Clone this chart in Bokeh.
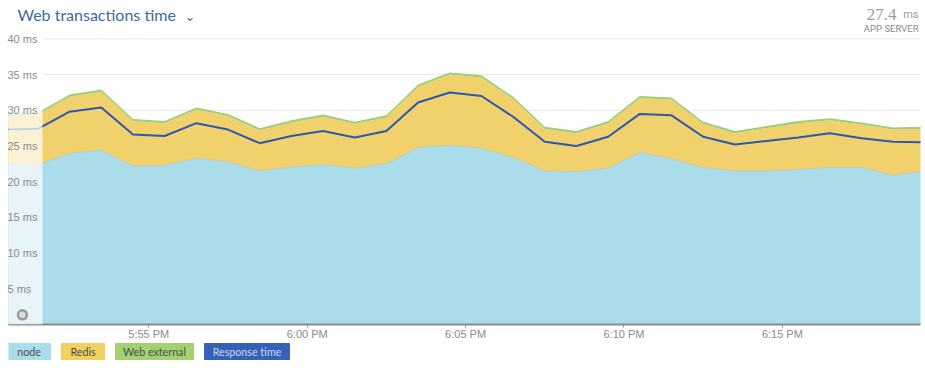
from bokeh.plotting import figure
from bokeh.models import ColumnDataSource, FixedTicker, BoxAnnotation, Range1d
from bokeh.layouts import column
from bokeh.embed import file_html
from bokeh.resources import INLINE
from bokeh.core.properties import value

# ---------------- data (minutes after 5:00 PM) ----------------
minutes = [50.5, 51.5, 52.5, 53.5, 54.5, 55.5, 56.5, 57.5, 58.5, 59.5,
           60.5, 61.5, 62.5, 63.5, 64.5, 65.5, 66.5, 67.5, 68.5, 69.5,
           70.5, 71.5, 72.5, 73.5, 74.5, 75.5, 76.5, 77.5, 78.5, 79.5]
node = [22.5, 22.4, 24.0, 24.4, 22.2, 22.3, 23.3, 22.8, 21.5, 22.1,
        22.4, 21.9, 22.5, 24.8, 25.1, 24.7, 23.4, 21.5, 21.4, 21.9,
        24.1, 23.2, 22.0, 21.5, 21.5, 21.7, 22.0, 22.0, 20.9, 21.5]
redis = [6.7, 7.0, 7.9, 8.2, 6.3, 5.9, 6.8, 6.4, 5.7, 6.2,
         6.7, 6.2, 6.5, 8.5, 9.9, 9.9, 8.2, 5.9, 5.4, 6.3,
         7.6, 8.3, 6.1, 5.3, 6.0, 6.5, 6.6, 6.0, 6.4, 5.9]
web_external = [0.3, 0.3, 0.3, 0.3, 0.3, 0.3, 0.3, 0.3, 0.3, 0.3,
                0.3, 0.3, 0.3, 0.3, 0.3, 0.3, 0.3, 0.3, 0.3, 0.3,
                0.3, 0.3, 0.3, 0.3, 0.3, 0.3, 0.3, 0.3, 0.3, 0.3]
response_time = [27.3, 27.4, 29.8, 30.4, 26.6, 26.4, 28.2, 27.3, 25.4, 26.4,
                 27.1, 26.2, 27.1, 31.1, 32.5, 32.0, 29.1, 25.6, 25.0, 26.3,
                 29.5, 29.3, 26.3, 25.2, 25.7, 26.2, 26.8, 26.1, 25.6, 25.5]

x_ticks = [55, 60, 65, 70, 75]
x_tick_labels = ["5:55 PM", "6:00 PM", "6:05 PM", "6:10 PM", "6:15 PM"]
y_ticks = [5, 10, 15, 20, 25, 30, 35, 40]
y_tick_labels = ["5 ms", "10 ms", "15 ms", "20 ms", "25 ms", "30 ms", "35 ms", "40 ms"]

legend_labels = ["node", "Redis", "Web external", "Response time"]
title_text = "Web transactions time"
summary_value = "27.4"
summary_unit = "ms"
summary_label = "APP SERVER"

# ---------------- style ----------------
C_NODE = "#aadce9"
C_REDIS = "#f0d16b"
C_WEB = "#9fcd72"
C_RESP = "#2a58b2"
GRAY = "#8a8a8a"

X_START, X_END = 50.571, 79.36
BAND_END = 51.645
Y_MAX = 45.38

src = ColumnDataSource(dict(t=minutes, node=node, redis=redis, web=web_external,
                            resp=response_time))

p = figure(frame_width=912, frame_height=324, output_backend="svg",
           toolbar_location=None, x_range=Range1d(X_START, X_END),
           y_range=Range1d(0, Y_MAX), min_border_left=8, min_border_right=5,
           min_border_top=0, min_border_bottom=0)
p.outline_line_color = None
p.xgrid.visible = False
p.ygrid.visible = False
p.yaxis.visible = False
p.background_fill_color = "white"

# grid lines (start after the faded band)
p.segment(x0=[BAND_END] * len(y_ticks), x1=[X_END] * len(y_ticks),
          y0=y_ticks, y1=y_ticks, line_color="#e8e8e8", line_width=1)

# stacked areas
p.varea_stack(["node", "redis", "web"], x="t", color=[C_NODE, C_REDIS, C_WEB],
              source=src)
# subtle edge between node and redis
p.line("t", "node", source=src, line_color="#b4c6bd", line_width=1, line_alpha=0.8)

# response time line
p.line("t", "resp", source=src, line_color=C_RESP, line_width=2)

# faded band at left
p.add_layout(BoxAnnotation(left=X_START, right=BAND_END, fill_color="white",
                           fill_alpha=0.72, line_color=None))

# y labels inside plot
ylab = p.text(x=[X_START] * len(y_ticks), y=y_ticks, text=y_tick_labels,
              x_offset=-1, text_baseline="middle", text_align="left",
              text_font=value("Liberation Sans"), text_font_size="11px",
              text_color=GRAY)
ylab.level = "overlay"

# small ring icon in the band
icon = p.scatter(x=[X_START + 0.44], y=[1.35], marker="circle", size=9,
                 fill_color="#dcdcdc", line_color="#9a9a9a", line_width=2.5)
icon.level = "overlay"

# title and summary
texts = []
texts.append(p.text(x=[X_START], y=[Y_MAX], text=[title_text], x_offset=9, y_offset=14,
                    text_baseline="alphabetic", text_align="left", text_font=value("Lato"),
                    text_font_size="16px", text_color="#3a6b9b"))
texts.append(p.text(x=[X_START], y=[Y_MAX], text=["\u2304"], x_offset=176, y_offset=16,
                    text_baseline="alphabetic", text_align="left",
                    text_font=value("DejaVu Sans"), text_font_size="13px",
                    text_color="#3a6b9b"))
texts.append(p.text(x=[X_END], y=[Y_MAX], text=[summary_value], x_offset=-24, y_offset=14,
                    text_baseline="alphabetic", text_align="right",
                    text_font=value("Liberation Sans Narrow"), text_font_size="17px",
                    text_color="#9a9a9a"))
texts.append(p.text(x=[X_END], y=[Y_MAX], text=[summary_unit], x_offset=-2, y_offset=14,
                    text_baseline="alphabetic", text_align="right",
                    text_font=value("Roboto"), text_font_size="11px", text_color="#9a9a9a"))
texts.append(p.text(x=[X_END], y=[Y_MAX], text=[summary_label], x_offset=-2, y_offset=28,
                    text_baseline="alphabetic", text_align="right",
                    text_font=value("Roboto"), text_font_size="9.5px", text_color="#8a8a8a"))
for r in texts:
    r.level = "overlay"

# x axis
ax = p.xaxis[0]
ax.ticker = FixedTicker(ticks=x_ticks)
ax.major_label_overrides = {t: l for t, l in zip(x_ticks, x_tick_labels)}
ax.axis_line_color = "#8c8c8c"
ax.axis_line_width = 2
ax.major_tick_line_color = "#8c8c8c"
ax.major_tick_in = 0
ax.major_tick_out = 3
ax.minor_tick_line_color = None
ax.major_label_standoff = 0
ax.major_label_text_font = "Liberation Sans"
ax.major_label_text_font_size = "11px"
ax.major_label_text_color = GRAY

# ---------------- legend strip ----------------
leg_colors = [C_NODE, "#f0d063", "#a3d170", "#3562b8"]
leg_text_colors = ["#4d4d4d", "#4d4d4d", "#4d4d4d", "#cdd8f0"]
leg_left = [7, 61, 115, 204]
leg_width = [43, 43, 78, 85]

leg = figure(frame_width=917, frame_height=20, output_backend="svg",
             toolbar_location=None, x_range=Range1d(8, 925), y_range=Range1d(0, 20),
             min_border_left=8, min_border_right=0, min_border_top=0,
             min_border_bottom=0)
leg.outline_line_color = None
leg.axis.visible = False
leg.grid.visible = False
lsrc = ColumnDataSource(dict(
    left=leg_left, right=[l + w for l, w in zip(leg_left, leg_width)],
    mid=[l + w / 2 for l, w in zip(leg_left, leg_width)],
    label=legend_labels, color=leg_colors, tcolor=leg_text_colors))
leg.quad(left="left", right="right", bottom=3, top=19, color="color", source=lsrc)
leg.text(x="mid", y=11, text="label", text_color="tcolor", source=lsrc,
         text_align="center", text_baseline="middle", text_font=value("Lato"),
         text_font_size="10.7px")

layout = column(p, leg, spacing=0)
open("out.html", "w").write(file_html(layout, INLINE))
